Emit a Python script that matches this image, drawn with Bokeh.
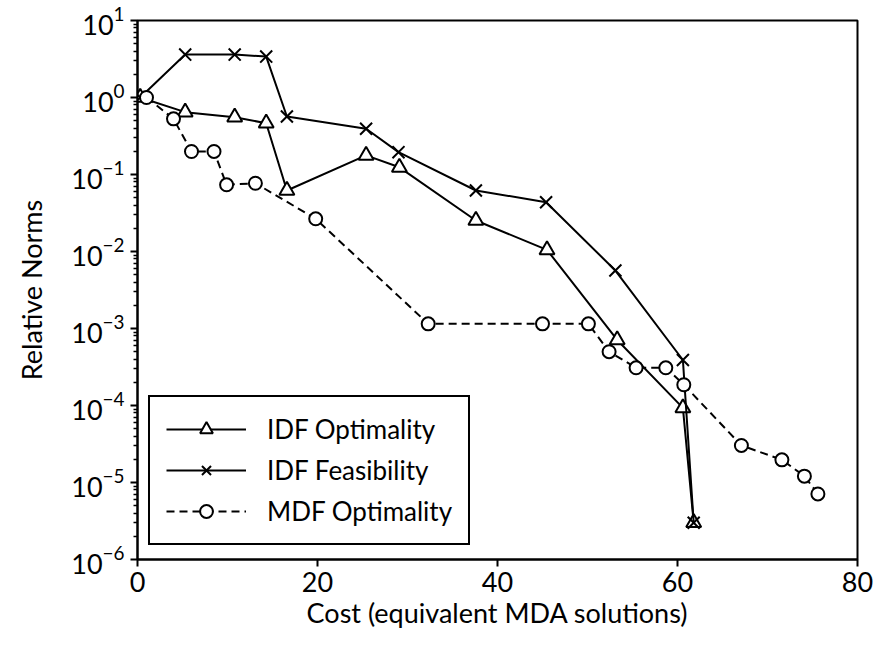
from bokeh.plotting import figure
from bokeh.models import FixedTicker, Legend, LegendItem, Range1d
from bokeh.embed import file_html
from bokeh.resources import INLINE

# Convergence histories: relative norm vs. cost in equivalent MDA solutions
idf_opt_cost = [0.3, 5.3, 10.8, 14.3, 16.6, 25.4, 29.1, 37.6, 45.5, 53.3, 60.6, 61.8]
idf_opt_norm = [1.0, 0.645, 0.555, 0.464, 0.062, 0.177, 0.124, 0.0253, 0.0105, 7.1e-4, 9.3e-5, 3.0e-6]

idf_feas_cost = [0.3, 5.3, 10.8, 14.3, 16.6, 25.4, 29.0, 37.6, 45.4, 53.1, 60.6, 61.8]
idf_feas_norm = [1.0, 3.61, 3.61, 3.40, 0.566, 0.393, 0.195, 0.062, 0.0437, 5.66e-3, 3.9e-4, 3.0e-6]

mdf_cost = [1.0, 4.0, 6.0, 8.5, 9.9, 13.1, 19.8, 32.3, 45.0, 50.1, 52.4, 55.4, 58.7, 60.7,
            67.1, 71.6, 74.1, 75.6]
mdf_norm = [1.0, 0.528, 0.199, 0.199, 0.0735, 0.077, 0.0266, 1.15e-3, 1.15e-3, 1.15e-3,
            5.0e-4, 3.09e-4, 3.09e-4, 1.86e-4, 3.03e-5, 1.97e-5, 1.21e-5, 7.1e-6]

x_ticks = [0, 20, 40, 60, 80]
y_decades = [1e-6, 1e-5, 1e-4, 1e-3, 1e-2, 1e-1, 1e0, 1e1]

FONT = "Lato"
TEXT_SIZE = "27px"

p = figure(
    width=876, height=645,
    y_axis_type="log",
    x_range=Range1d(0, 80), y_range=Range1d(1e-6, 10),
    output_backend="svg", toolbar_location=None,
    min_border_left=137, min_border_right=19, min_border_top=20, min_border_bottom=86,
)
p.background_fill_color = "white"
p.border_fill_color = "white"
p.outline_line_color = "black"
p.outline_line_width = 2
p.xgrid.visible = False
p.ygrid.visible = False

minor = [k * d for d in y_decades[:-1] for k in range(2, 10)]
p.yaxis.ticker = FixedTicker(ticks=y_decades, minor_ticks=minor)
p.xaxis.ticker = FixedTicker(ticks=x_ticks, minor_ticks=[])

for ax in (p.xaxis, p.yaxis):
    ax.axis_line_color = "black"
    ax.axis_line_width = 2
    ax.major_tick_line_color = "black"
    ax.major_tick_line_width = 2
    ax.major_tick_out = 7
    ax.major_tick_in = 0
    ax.minor_tick_line_color = "black"
    ax.minor_tick_line_width = 1.5
    ax.minor_tick_out = 4
    ax.minor_tick_in = 0
    ax.major_label_text_font = FONT
    ax.major_label_text_font_size = TEXT_SIZE
    ax.major_label_text_color = "black"
    ax.axis_label_text_font = FONT
    ax.axis_label_text_font_size = TEXT_SIZE
    ax.axis_label_text_font_style = "normal"
    ax.axis_label_text_color = "black"

p.xaxis.major_label_standoff = 5
p.yaxis.major_label_standoff = 6
p.xaxis.axis_label = "Cost (equivalent MDA solutions)"
p.yaxis.axis_label = "Relative Norms"
p.xaxis.axis_label_standoff = 1
p.yaxis.axis_label_standoff = 20

# IDF optimality: solid line, open triangles
l1 = p.line(idf_opt_cost, idf_opt_norm, line_color="black", line_width=2)
m1 = p.scatter(idf_opt_cost, idf_opt_norm, marker="triangle", size=15,
               line_color="black", line_width=2, fill_color="white")

# IDF feasibility: solid line, crosses
l2 = p.line(idf_feas_cost, idf_feas_norm, line_color="black", line_width=2)
m2 = p.scatter(idf_feas_cost, idf_feas_norm, marker="x", size=17,
               line_color="black", line_width=2)

# MDF optimality: dashed line, open circles
l3 = p.line(mdf_cost, mdf_norm, line_color="black", line_width=2, line_dash="8 5")
m3 = p.scatter(mdf_cost, mdf_norm, marker="circle", size=13,
               line_color="black", line_width=2, fill_color="white")

legend = Legend(
    items=[
        LegendItem(label="IDF Optimality", renderers=[l1, m1]),
        LegendItem(label="IDF Feasibility", renderers=[l2, m2]),
        LegendItem(label="MDF Optimality", renderers=[l3, m3]),
    ],
    location=(11, 14),
    orientation="vertical",
    border_line_color="black", border_line_width=2, border_line_alpha=1,
    background_fill_color="white", background_fill_alpha=1,
    label_text_font=FONT, label_text_font_size="26px", label_text_color="black",
    glyph_width=80, glyph_height=32, label_height=32,
    label_standoff=21, spacing=9, padding=16, margin=0,
)
p.add_layout(legend, "center")

open("out.html", "w").write(file_html(p, INLINE))
